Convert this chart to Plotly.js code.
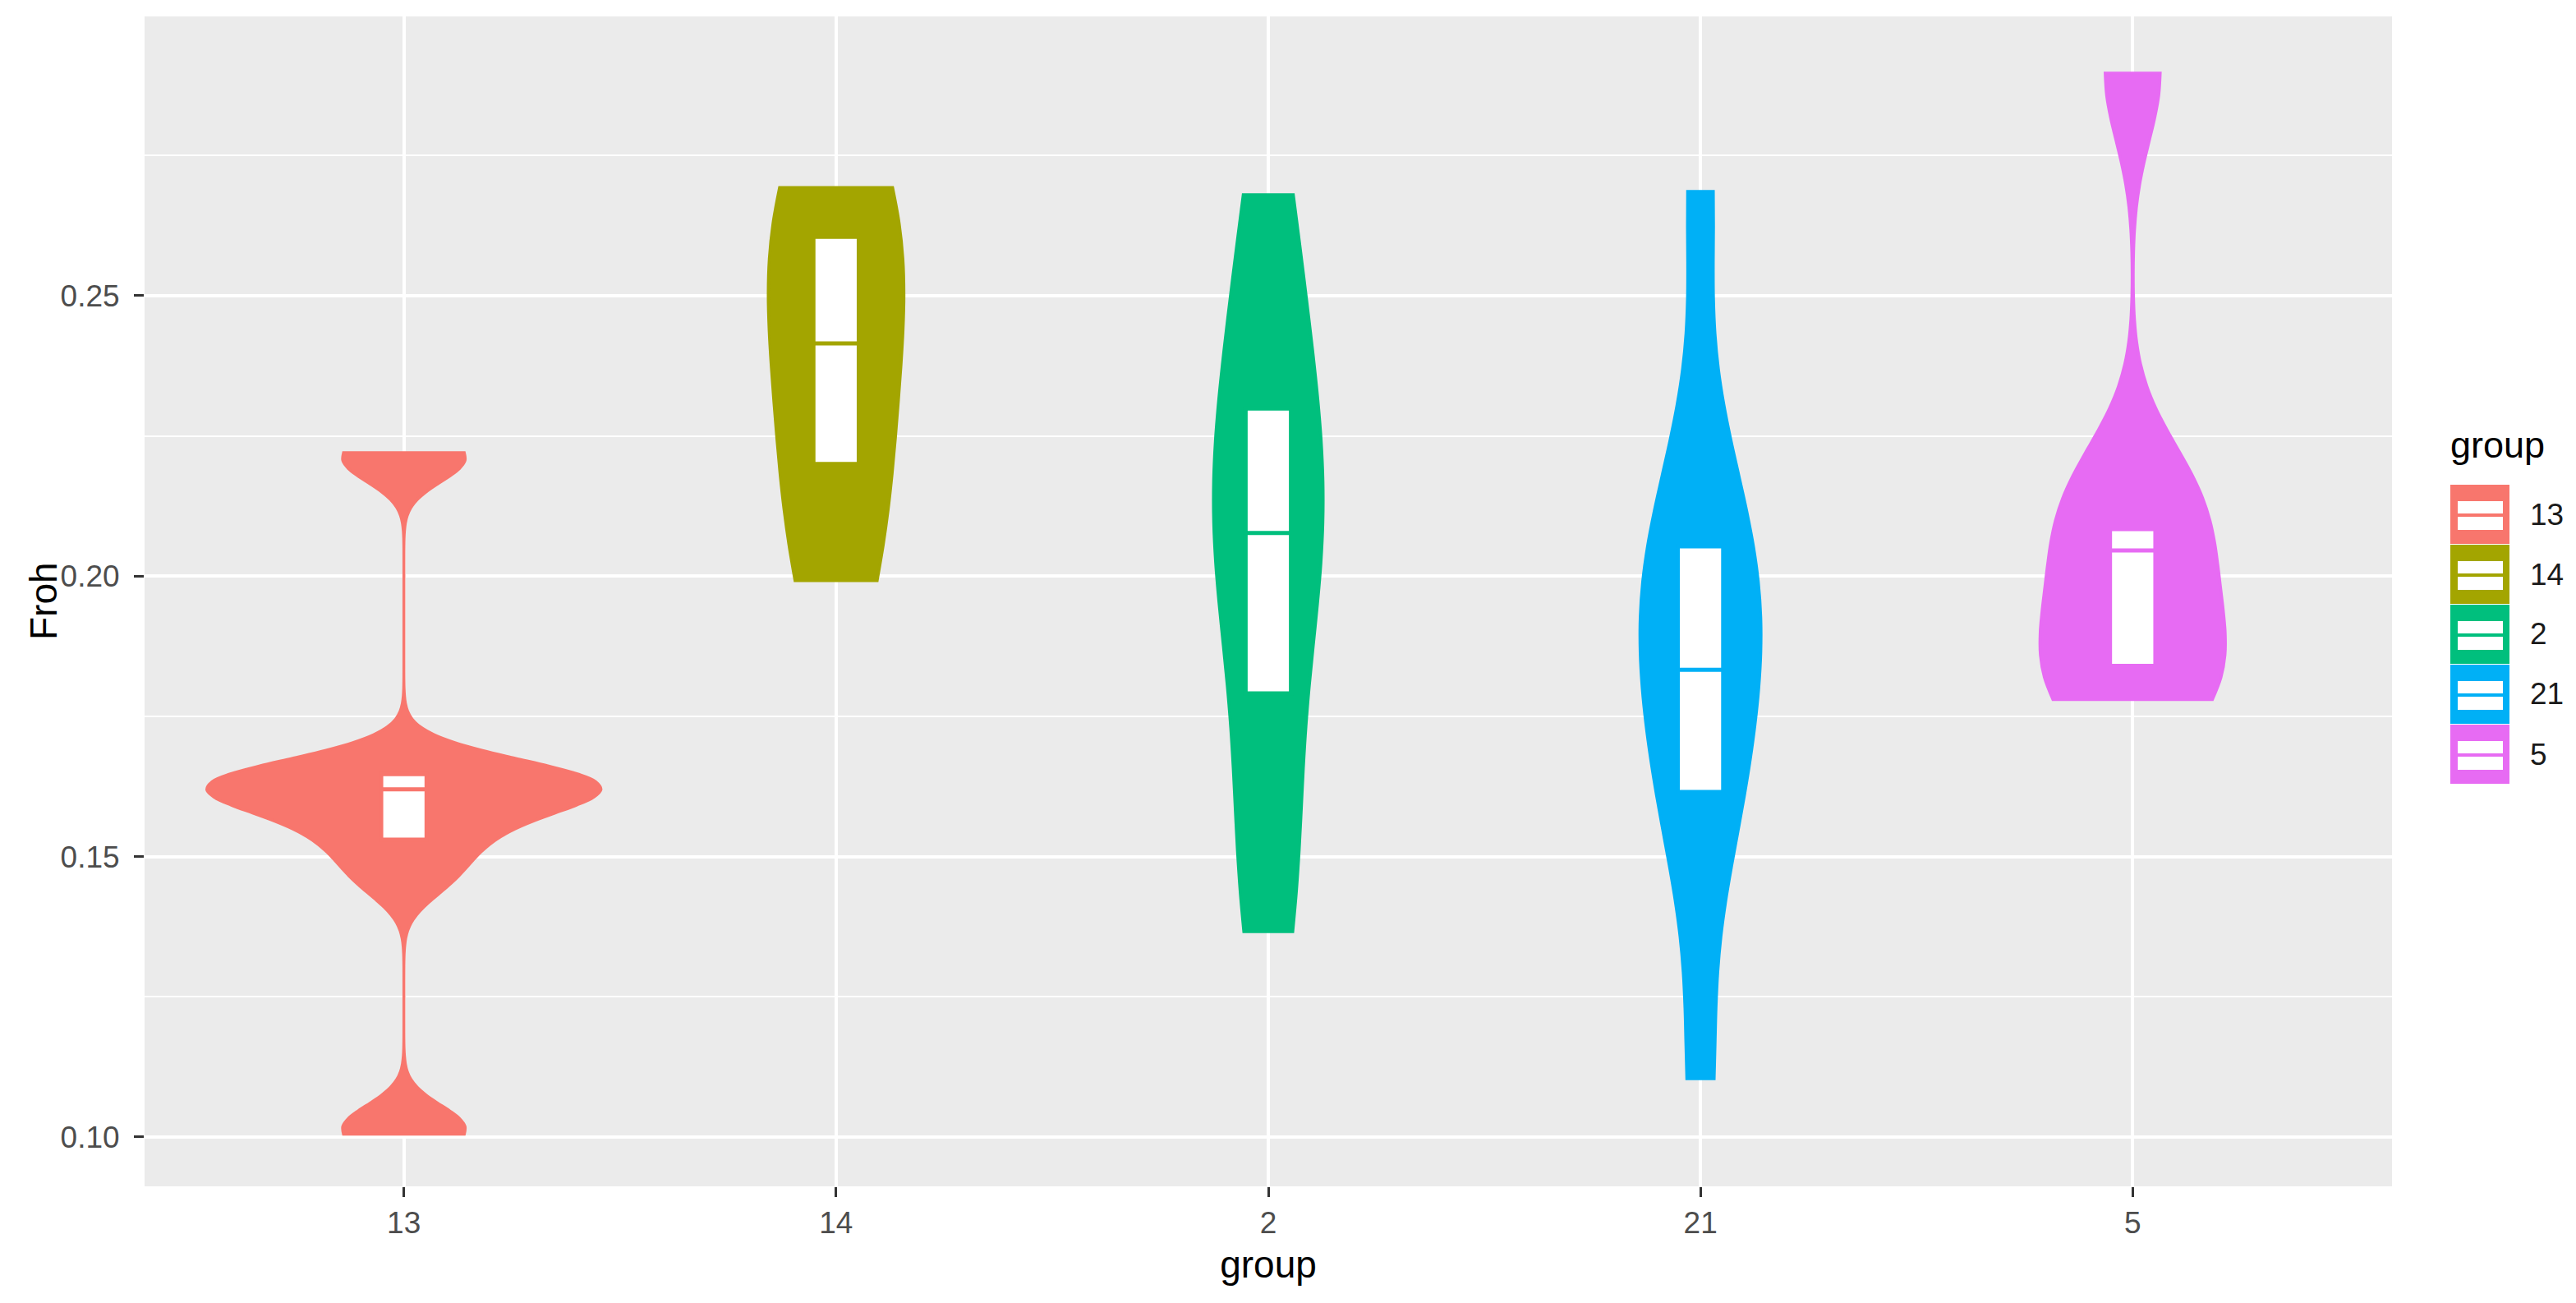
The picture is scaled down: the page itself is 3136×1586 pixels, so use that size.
<!DOCTYPE html>
<html>
<head>
<meta charset="utf-8">
<script src="https://cdn.plot.ly/plotly-3.0.1.min.js"></script>
<style>
  html, body { margin: 0; padding: 0; background: #fff; }
  #graph { width: 3136px; height: 1586px; }
</style>
</head>
<body>
<div id="graph"></div>
<script>
// groups in plotting order and ggplot hue colours
var groups = ['13', '14', '2', '21', '5'];
var colors = ['#F8766D', '#A3A500', '#00BF7D', '#00B0F6', '#E76BF3'];

// Froh values per group (estimated from the violin shapes)
var froh13 = [0.1005, 0.1022, 0.1455, 0.1508, 0.1548, 0.158, 0.1605, 0.1625, 0.1628, 0.1632, 0.1635, 0.1665, 0.2203, 0.222];
var froh14 = [0.1992, 0.2205, 0.2415, 0.2605, 0.2693];
var froh2  = [0.1366, 0.155, 0.1791, 0.199, 0.2077, 0.217, 0.2299, 0.246, 0.268];
var froh21 = [0.1104, 0.152, 0.1615, 0.175, 0.1833, 0.194, 0.199, 0.2053, 0.222, 0.2686];
var froh5  = [0.178, 0.1795, 0.189, 0.199, 0.2105, 0.2165, 0.2897];
var samples = [froh13, froh14, froh2, froh21, froh5];

// boxplot statistics
var q1Vals     = [0.1530, 0.2200, 0.1791, 0.1615, 0.1840];
var medianVals = [0.1620, 0.2415, 0.2077, 0.1833, 0.2046];
var q3Vals     = [0.1647, 0.2605, 0.2299, 0.2053, 0.2084];

// kernel bandwidth and widest point of each violin (x units)
var kdeBandwidth = [0.0042, 0.021, 0.022, 0.019, 0.012];
var violinWidth  = [0.912, 0.314, 0.253, 0.279, 0.428];

var font = 'Liberation Sans, Arial, sans-serif';

var data = [];
groups.forEach(function (g, i) {
    data.push({
        type: 'violin',
        x: samples[i].map(function () { return g; }),
        y: samples[i],
        name: g,
        bandwidth: kdeBandwidth[i],
        spanmode: 'hard',
        scalemode: 'width',
        width: violinWidth[i],
        fillcolor: colors[i],
        line: {color: colors[i], width: 3.5},
        opacity: 1,
        points: false,
        box: {visible: false},
        meanline: {visible: false},
        hoverinfo: 'skip',
        showlegend: false
    });
});
groups.forEach(function (g, i) {
    data.push({
        type: 'box',
        x: [g],
        q1: [q1Vals[i]],
        median: [medianVals[i]],
        q3: [q3Vals[i]],
        lowerfence: [q1Vals[i]],
        upperfence: [q3Vals[i]],
        width: 0.105,
        whiskerwidth: 0,
        fillcolor: '#FFFFFF',
        line: {color: colors[i], width: 5},
        boxpoints: false,
        hoverinfo: 'skip',
        showlegend: false
    });
});

// hand-made legend in the ggplot style (pixel -> paper helpers)
var L = 176, R = 2912, T = 20, B = 1444;
function px(x) { return (x - L) / (R - L); }
function py(y) { return (B - y) / (B - T); }

var shapes = [], annotations = [];
groups.forEach(function (g, i) {
    var top = 590 + 73 * i;
    shapes.push({type: 'rect', xref: 'paper', yref: 'paper', x0: px(2983), x1: px(3055), y0: py(top), y1: py(top + 72),
                 fillcolor: colors[i], line: {width: 0}});
    shapes.push({type: 'rect', xref: 'paper', yref: 'paper', x0: px(2992), x1: px(3047), y0: py(top + 20), y1: py(top + 55),
                 fillcolor: '#FFFFFF', line: {width: 0}});
    shapes.push({type: 'line', xref: 'paper', yref: 'paper', x0: px(2992), x1: px(3047), y0: py(top + 37), y1: py(top + 37),
                 line: {color: colors[i], width: 4}});
    annotations.push({xref: 'paper', yref: 'paper', x: px(3078), y: py(top + 36), xanchor: 'left', yanchor: 'middle',
                      text: g, showarrow: false, font: {family: font, size: 37, color: '#1A1A1A'}});
});
annotations.push({xref: 'paper', yref: 'paper', x: px(2981), y: py(541), xanchor: 'left', yanchor: 'middle',
                  text: 'group', showarrow: false, font: {family: font, size: 45, color: '#000000'}});
// y axis title
annotations.push({xref: 'paper', yref: 'paper', x: px(53), y: 0.5, xanchor: 'center', yanchor: 'middle',
                  textangle: -90, text: 'Froh', showarrow: false, font: {family: font, size: 46, color: '#000000'}});

var layout = {
    width: 3136,
    height: 1586,
    margin: {l: L, r: 3136 - R, t: T, b: 1586 - B, autoexpand: false},
    paper_bgcolor: '#FFFFFF',
    plot_bgcolor: '#EBEBEB',
    showlegend: false,
    violinmode: 'overlay',
    boxmode: 'overlay',
    xaxis: {
        type: 'category',
        categoryorder: 'array',
        categoryarray: groups,
        range: [-0.6, 4.6],
        showgrid: true, gridcolor: '#FFFFFF', gridwidth: 3.5,
        zeroline: false, showline: false,
        ticks: 'outside', ticklen: 12, tickwidth: 2.5, tickcolor: '#333333',
        tickfont: {family: font, size: 37, color: '#4D4D4D'},
        title: {text: 'group', font: {family: font, size: 46, color: '#000000'}, standoff: 14}
    },
    yaxis: {
        range: [0.0912, 0.2998],
        tick0: 0, dtick: 0.05, tickformat: '.2f',
        showgrid: true, gridcolor: '#FFFFFF', gridwidth: 3.5,
        minor: {tick0: 0, dtick: 0.025, showgrid: true, gridcolor: '#FFFFFF', gridwidth: 1.8, ticks: ''},
        zeroline: false, showline: false,
        ticks: 'outside', ticklen: 12, tickwidth: 2.5, tickcolor: '#333333',
        ticklabelstandoff: 10,
        tickfont: {family: font, size: 37, color: '#4D4D4D'}
    },
    shapes: shapes,
    annotations: annotations
};

Plotly.newPlot('graph', data, layout, {displayModeBar: false});
</script>
</body>
</html>
